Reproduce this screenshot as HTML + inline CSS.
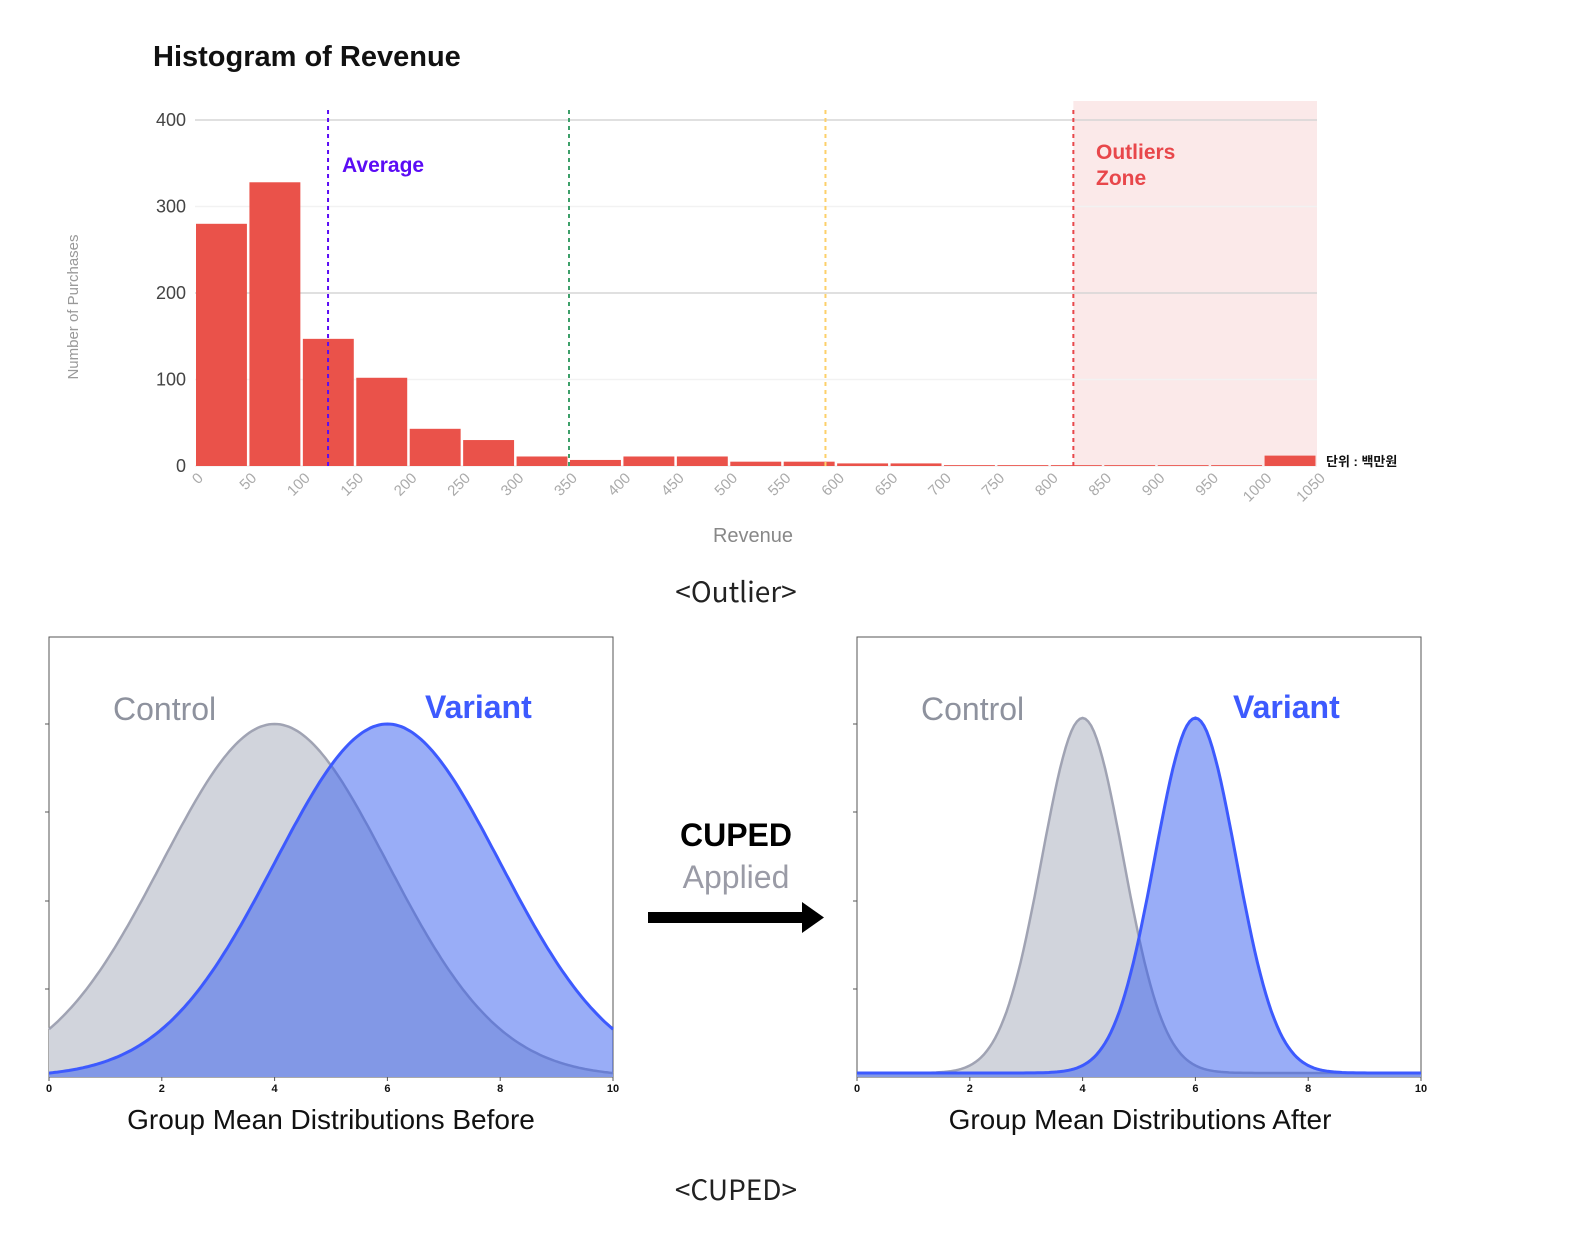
<!DOCTYPE html>
<html><head><meta charset="utf-8"><style>
body{margin:0;background:#fff;}
svg{display:block;font-family:"Liberation Sans","Noto Sans CJK KR",sans-serif;}
</style></head><body>
<svg id="root" width="1586" height="1248" viewBox="0 0 1586 1248">
<text x="153" y="66" font-size="29" font-weight="bold" fill="#111">Histogram of Revenue</text>
<g id="hist"></g>
<text x="78" y="307" font-size="15" fill="#999" text-anchor="middle" transform="rotate(-90 78 307)">Number of Purchases</text>
<text x="753" y="542" font-size="20" fill="#888" text-anchor="middle">Revenue</text>
<text x="1326" y="466" font-size="13" font-weight="bold" fill="#111">단위 : 백만원</text>
<text x="736" y="602" font-size="28" fill="#222" text-anchor="middle" font-family="'Noto Sans CJK KR','Liberation Sans',sans-serif">&lt;Outlier&gt;</text>
<g id="before"></g>
<g id="after"></g>
<text x="331" y="1129" font-size="28" fill="#111" text-anchor="middle">Group Mean Distributions Before</text>
<text x="1140" y="1129" font-size="28" fill="#111" text-anchor="middle">Group Mean Distributions After</text>
<text x="736" y="846" font-size="32" font-weight="bold" fill="#000" text-anchor="middle">CUPED</text>
<text x="736" y="888" font-size="32" fill="#9a9ba6" text-anchor="middle">Applied</text>
<g><rect x="648" y="912" width="156" height="11" fill="#000"/><polygon points="802,902 824,917.5 802,933" fill="#000"/></g>
<text x="736" y="1200" font-size="28" fill="#222" text-anchor="middle" font-family="'Noto Sans CJK KR','Liberation Sans',sans-serif">&lt;CUPED&gt;</text>
</svg>
<script>
const binStarts=[0,50,100,150,200,250,300,350,400,450,500,550,600,650,700,750,800,850,900,950,1000];
const counts=[280,328,147,102,43,30,11,7,11,11,5,5,3,3,1,1,1,1,1,1,12];
const yTicks=[0,100,200,300,400];
const xTicks=[0,50,100,150,200,250,300,350,400,450,500,550,600,650,700,750,800,850,900,950,1000,1050];
const refLines=[124.5,350,590,822];
const refColors=['#5b0cf5','#3ea06a','#fcd06a','#e8474b'];
const outlierStart=822;
const beforeMeans=[4,6], beforeSds=[2,2];
const afterMeans=[4,6], afterSds=[0.72,0.72];
const NS='http://www.w3.org/2000/svg';
function mk(p,t,a){const e=document.createElementNS(NS,t);for(const k in a)e.setAttribute(k,a[k]);p.appendChild(e);return e;}
const X=v=>195+v*(1317-195)/1050, Y=v=>466-v*(466-120)/400;
const H=document.getElementById('hist');
let z=mk(H,'rect',{x:X(outlierStart),y:101,width:1317-X(outlierStart),height:365,fill:'#fbe9e9'});


yTicks.forEach(t=>{
 let g=mk(H,'line',{x1:195,x2:1317,y1:Y(t),y2:Y(t),stroke:(t==200||t==400)?'#d6d6d6':'#f2f2f2','stroke-width':1.5});
 
 
 let l=mk(H,'text',{x:186,y:Y(t)+6,'font-size':18,fill:'#444','text-anchor':'end'});l.textContent=t;
 
 
});
binStarts.forEach((b,i)=>{
 let r=mk(H,'rect',{x:X(b)+1,y:Y(counts[i]),width:X(b+50)-X(b)-2.5,height:466-Y(counts[i]),fill:'#ea524a'});
 
 
});
xTicks.forEach(t=>{
 let l=mk(H,'text',{x:X(t)+9,y:479,'font-size':15,fill:'#aaa','text-anchor':'end',transform:`rotate(-45 ${X(t)+9} 479)`});l.textContent=t;
 
 
});
refLines.forEach((v,i)=>{
 let l=mk(H,'line',{x1:X(v),x2:X(v),y1:110,y2:466,stroke:refColors[i],'stroke-width':2,'stroke-dasharray':'4 4'});
 
 
});
let a=mk(H,'text',{x:342,y:172,'font-size':21,'font-weight':'bold',fill:'#5b0cf5'});a.textContent='Average';


let o1=mk(H,'text',{x:1096,y:159,'font-size':21,'font-weight':'bold',fill:'#e8474b'});o1.textContent='Outliers';


let o2=mk(H,'text',{x:1096,y:185,'font-size':21,'font-weight':'bold',fill:'#e8474b'});o2.textContent='Zone';



function dist(id,x0,means,sds,base){
 const G=document.getElementById(id);
 const x1=x0+564, yb=1077, top=(id=='before')?724:718;
 const px=v=>x0+v*56.4;
 const py=(v,s,m)=>{const f=Math.exp(-(v-m)*(v-m)/(2*s*s));return yb-base-(yb-base-top)*f;};
 mk(G,'rect',{x:x0,y:637,width:564,height:440,fill:'#fff',stroke:'#555','stroke-width':1});
 [724,812,901,989].forEach(y=>mk(G,'line',{x1:x0-4,x2:x0,y1:y,y2:y,stroke:'#555'}));
 const fills=['#d1d4dc','rgba(51,92,240,0.5)'],strokes=['#a0a3b3','#3d5afe'],names=['control','variant'];
 for(let k=0;k<2;k++){
  let d='';for(let i=0;i<=200;i++){const v=i/20;d+=(i?'L':'M')+px(v).toFixed(1)+','+py(v,sds[k],means[k]).toFixed(1);}
  let f=mk(G,'path',{d:d+`L${x1},${yb}L${x0},${yb}Z`,fill:fills[k]});
  
  
  let s=mk(G,'path',{d:d,fill:'none',stroke:strokes[k],'stroke-width':k?3:2.5});
  
  
 }
 for(let t=0;t<=10;t+=2){
  mk(G,'line',{x1:px(t),x2:px(t),y1:yb,y2:yb+4,stroke:'#555'});
  let l=mk(G,'text',{x:px(t),y:1092,'font-size':11,'font-weight':'bold',fill:'#111','text-anchor':'middle'});l.textContent=t;
  
  
 }
 let c=mk(G,'text',{x:x0+64,y:720,'font-size':32,fill:'#8e929e'});c.textContent='Control';
 
 
 let v=mk(G,'text',{x:x0+376,y:718,'font-size':32,'font-weight':'bold',fill:'#3d5afe'});v.textContent='Variant';
 
 
}
dist('before',49,beforeMeans,beforeSds,0);
dist('after',857,afterMeans,afterSds,4);
</script>
</body></html>
